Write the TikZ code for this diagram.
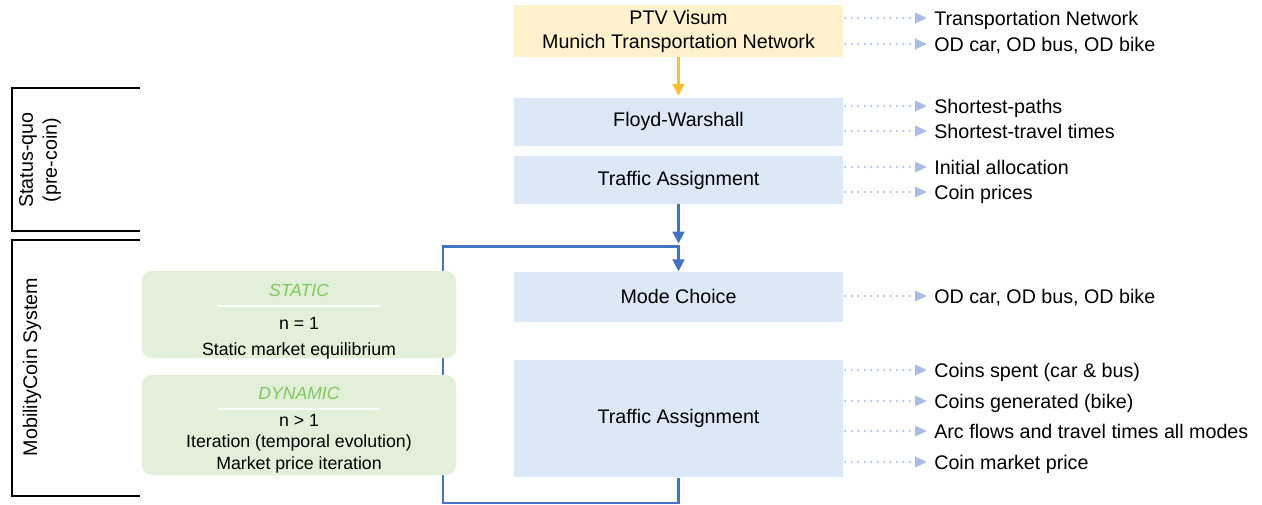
\documentclass[tikz,border=0pt]{standalone}
\usepackage{fontspec}
\setmainfont{Liberation Sans}
\usetikzlibrary{arrows.meta,positioning,calc}

\definecolor{visumfill}{HTML}{FFF2CC}
\definecolor{stagefill}{HTML}{DCE8F6}
\definecolor{regimefill}{HTML}{E2F0D9}
\definecolor{regimetext}{HTML}{7CC95A}
\definecolor{loopblue}{HTML}{4472C4}
\definecolor{feedgold}{HTML}{F9BF2C}
\definecolor{outblue}{HTML}{A8BCE6}

\begin{document}
\begin{tikzpicture}[
  x=0.025cm, y=-0.025cm,
  font=\fontsize{14}{17}\selectfont,
  >={Triangle[length=3mm,width=2.9mm]},
  stage/.style={
    fill=stagefill,
    align=center,
    inner sep=0pt,
    minimum width=8.225cm,
    minimum height=12mm
  },
  source/.style={stage, fill=visumfill, minimum height=13mm},
  regime/.style={
    fill=regimefill,
    rounded corners=7pt,
    minimum width=7.85cm
  },
  tag/.style={font=\fontsize{12.5}{15}\selectfont\itshape, text=regimetext},
  divider/.style={white, line width=1.2pt},
  detail/.style={align=center, font=\fontsize{12.6}{15.1}\selectfont},
  phase/.style={align=center, rotate=90},
  bracket/.style={line width=1.6pt},
  flow/.style={->, loopblue, line width=2pt},
  feed/.style={->, feedgold, line width=2pt, shorten >=1pt},
  result/.style={anchor=west, inner sep=0pt, text height=10pt, text depth=0pt},
  emit/.style={
    -{Triangle[length=3mm,width=2.6mm]},
    outblue,
    line width=1.6pt,
    line cap=round,
    dash pattern=on 0pt off 4.6pt,
    shorten <=0.05cm,
    shorten >=0.175cm
  }
]
\useasboundingbox (0,0) rectangle (1262,505);

% main column
\node[source] (visum) at (678.5,31) {PTV Visum\\Munich Transportation Network};
\node[stage, below=10mm of visum] (floyd) {Floyd-Warshall};
\node[stage, below=2.5mm of floyd] (assign) {Traffic Assignment};
\node[stage, below=16.75mm of assign, minimum height=12.5mm] (mode) {Mode Choice};
\node[stage, below=9.5mm of mode, minimum height=29.25mm] (market) {Traffic Assignment};

\draw[feed] (visum) -- (floyd);
\coordinate (merge) at ($(assign.south)+(0,42)$);
\coordinate (loopcorner) at (443,503);
\draw[flow, shorten >=2pt] (assign) -- (merge);
\draw[flow] (market.south) |- (loopcorner) |- (merge) -- (mode);

% static / dynamic
\node[regime, minimum height=2.175cm] (static) at (299,314.5) {};
\node[regime, minimum height=2.5cm] (dynamic) at (299,425) {};
\node[tag] (statictag) at ($(static.north)+(0,20)$) {STATIC};
\draw[divider] ($(static.north)+(-81,35)$) -- ($(static.north)+(81,35)$);
\node[detail] (staticbody) at ($(static.north)+(0,67.5)$) {n = 1\\[2.8pt]Static market equilibrium};
\node[tag] (dynamictag) at ($(dynamic.north)+(0,19)$) {DYNAMIC};
\draw[divider] ($(dynamic.north)+(-81,34)$) -- ($(dynamic.north)+(81,34)$);
\node[detail] (dynamicbody) at ($(dynamic.north)+(0,69)$) {n > 1\\Iteration (temporal evolution)\\Market price iteration};

% phases
\draw[bracket] (140,88) -| (12,231) -- (140,231);
\draw[bracket] (140,240) -| (12,496) -- (140,496);
\node[phase] (statusquo) at (40,160) {Status-quo\\(pre-coin)};
\node[phase] (coinsystem) at (32,367) {MobilityCoin System};

% outputs
\node[result] (network) at (934,18) {Transportation Network};
\node[result] (odinput) at (934,44) {OD car, OD bus, OD bike};
\node[result] (paths) at (934,106) {Shortest-paths};
\node[result] (times) at (934,131) {Shortest-travel times};
\node[result] (alloc) at (934,167) {Initial allocation};
\node[result] (prices) at (934,192) {Coin prices};
\node[result] (odmode) at (934,296) {OD car, OD bus, OD bike};
\node[result] (spent) at (934,370) {Coins spent (car \& bus)};
\node[result] (generated) at (934,401) {Coins generated (bike)};
\node[result] (flows) at (934,431) {Arc flows and travel times all modes};
\node[result] (marketprice) at (934,462) {Coin market price};

\draw[emit] (visum.east |- network.west) -- (network.west);
\draw[emit] (visum.east |- odinput.west) -- (odinput.west);
\draw[emit] (floyd.east |- paths.west) -- (paths.west);
\draw[emit] (floyd.east |- times.west) -- (times.west);
\draw[emit] (assign.east |- alloc.west) -- (alloc.west);
\draw[emit] (assign.east |- prices.west) -- (prices.west);
\draw[emit] (mode.east |- odmode.west) -- (odmode.west);
\draw[emit] (market.east |- spent.west) -- (spent.west);
\draw[emit] (market.east |- generated.west) -- (generated.west);
\draw[emit] (market.east |- flows.west) -- (flows.west);
\draw[emit] (market.east |- marketprice.west) -- (marketprice.west);
\end{tikzpicture}
\end{document}
